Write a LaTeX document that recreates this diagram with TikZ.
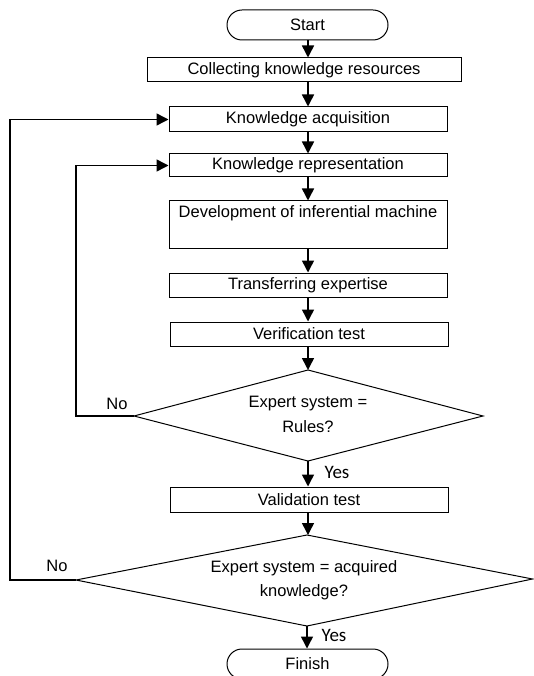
\documentclass[tikz,border=0pt]{standalone}
\usepackage{fontspec}
\setmainfont{Liberation Sans}
\newfontfamily\yesfont{Carlito}
\usetikzlibrary{arrows.meta}
\tikzset{
  box/.style={draw, line width=1pt, rectangle, inner sep=0pt, minimum width=278pt, minimum height=24pt, font=\fontsize{16.5}{19}\selectfont},
  term/.style={draw, line width=1pt, rectangle, rounded corners=15pt, inner sep=0pt, minimum width=161pt, minimum height=30pt, font=\fontsize{16.5}{19}\selectfont},
  txt/.style={inner sep=0pt, font=\fontsize{16.5}{19}\selectfont},
  yes/.style={inner sep=0pt, font=\yesfont\fontsize{19}{22}\selectfont},
  arr/.style={line width=1.5pt, -{Triangle[length=12pt,width=12pt]}},
  ln/.style={line width=1.5pt},
  dia/.style={line width=1pt, line join=miter}
}
\begin{document}
\begin{tikzpicture}[x=1pt,y=-1pt]
\useasboundingbox (0,0) rectangle (533,676);
\node[term] (start) at (307.5,25) {Start};
\node[box, minimum width=314pt] (collect) at (304,70) {Collecting knowledge resources};
\node[box, minimum height=25pt] (acq) at (308,119.5) {Knowledge acquisition};
\node[box, minimum height=23pt] (rep) at (308,165.5) {Knowledge representation};
\node[box, minimum height=47pt] (dev) at (308,224.5) {};
\node[txt] (devtxt) at (308,213) {Development of inferential machine};
\node[box] (trans) at (308,285) {Transferring expertise};
\node[box] (verif) at (309,334) {Verification test};
% diamond 1
\coordinate (d1t) at (308,370);
\coordinate (d1l) at (134,416);
\coordinate (d1r) at (483,416);
\coordinate (d1b) at (308,461);
\draw[dia] (d1t) -- (d1r) -- (d1b) -- (d1l) -- cycle;
\node[txt] (d1a) at (308,403.5) {Expert system =};
\node[txt] (d1c) at (308,426.5) {Rules?};
\node[box, minimum height=25pt] (valid) at (309,499.5) {Validation test};
% diamond 2
\coordinate (d2t) at (307,535);
\coordinate (d2l) at (76,580);
\coordinate (d2r) at (532.5,579);
\coordinate (d2b) at (307,626);
\draw[dia] (d2t) -- (d2r) -- (d2b) -- (d2l) -- cycle;
\node[txt] (d2a) at (304,568) {Expert system = acquired};
\node[txt] (d2c) at (304,592) {knowledge?};
\node[term] (finish) at (307.5,664) {Finish};
% labels
\node[txt] (no1) at (117,404) {No};
\node[txt] (no2) at (57,566) {No};
\node[yes] (yes1) at (337,472) {Yes};
\node[yes] (yes2) at (334,635) {Yes};
% connectors
\draw[arr] (start.south -| 308,0) -- (collect.north -| 308,0);
\draw[arr] (collect.south -| 308,0) -- (acq.north -| 308,0);
\draw[arr] (acq.south -| 308,0) -- (rep.north -| 308,0);
\draw[arr] (rep.south -| 308,0) -- (dev.north -| 308,0);
\draw[arr] (dev.south -| 308,0) -- (trans.north -| 308,0);
\draw[arr] (trans.south -| 308,0) -- (verif.north -| 308,0);
\draw[arr] (verif.south -| 308,0) -- (d1t);
\draw[arr] (d1b) -- (valid.north -| d1b);
\draw[arr] (valid.south -| 308,0) -- (d2t -| 308,0);
\draw[arr] (d2b) -- (finish.north -| d2b);
\draw[ln] (d1l) -- (76,416) -- (76,165.5);
\draw[arr] (76,165.5) -- (rep.west);
\draw[ln] (d2l) -- (10,580) -- (10,119.5);
\draw[arr] (10,119.5) -- (acq.west);
\end{tikzpicture}
\end{document}
